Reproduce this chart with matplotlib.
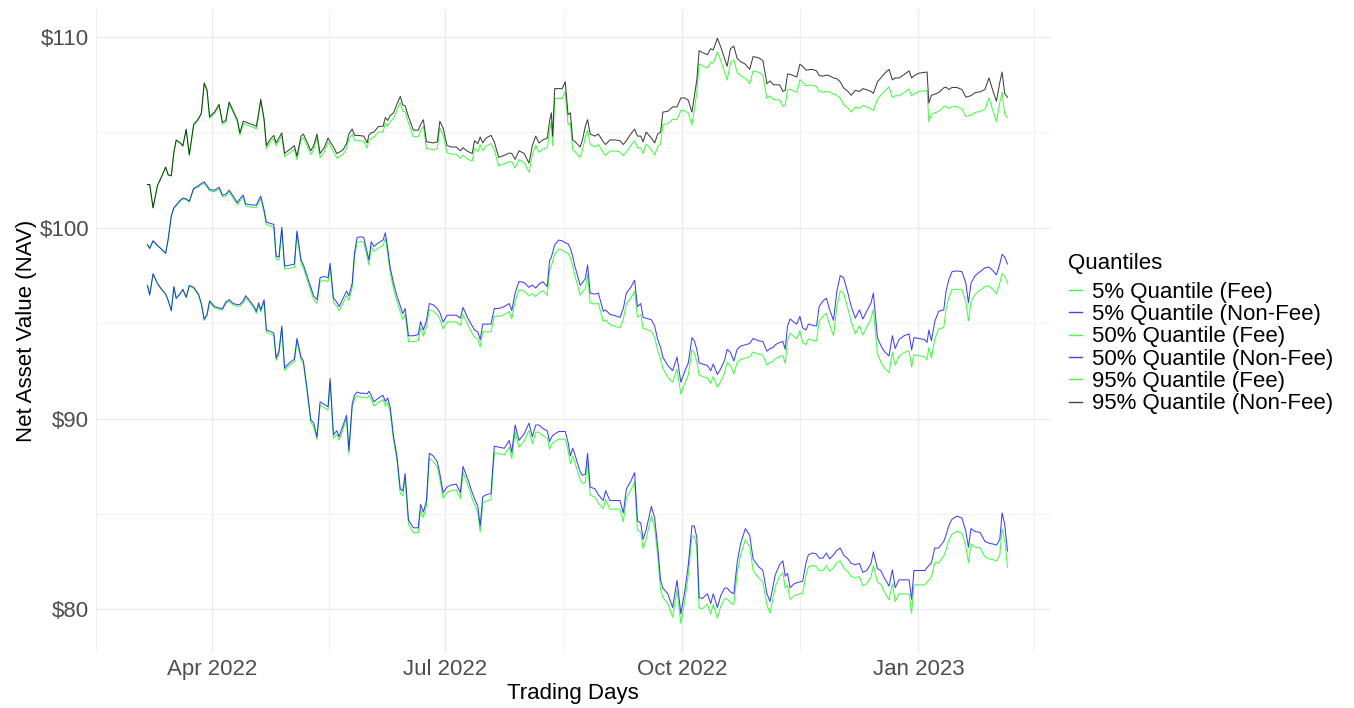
import matplotlib
matplotlib.use("Agg")
import matplotlib.pyplot as plt
import matplotlib.dates as mdates
import pandas as pd

plt.rcParams['font.family'] = ['Liberation Sans', 'DejaVu Sans']

# calendar days since the first trading day (2022-03-07)
start_date = "2022-03-07"
days = [
    0.0, 0.9, 2.2, 3.9, 5.5, 7.1, 8.1, 9.3, 10.3, 11.2,
    12.9, 13.8, 15.1, 16.3, 18.0, 19.9, 21.0, 22.1, 23.2, 24.2,
    26.1, 27.9, 29.2, 30.5, 31.8, 33.4, 35.0, 36.0, 37.3, 38.2,
    39.9, 41.5, 42.4, 43.3, 44.1, 45.4, 46.3, 47.6, 49.2, 50.1,
    51.2, 52.3, 53.4, 55.3, 57.2, 58.2, 59.8, 60.7, 62.1, 63.6,
    64.7, 66.0, 67.2, 68.8, 70.3, 71.1, 72.4, 73.7, 74.6, 76.2,
    77.5, 78.4, 79.7, 80.6, 81.6,
    82.9, 84.2, 85.5, 86.2, 87.1, 88.1, 90.0, 91.7, 92.6, 93.5,
    94.5, 95.8, 97.1, 98.4, 99.4, 100.3, 101.6, 103.5, 105.4, 106.3,
    107.4, 108.6, 109.7, 111.2, 112.8, 113.8, 115.1, 116.6, 118.3, 120.2,
    121.8, 122.8, 124.7, 126.4, 127.3, 128.6, 129.5, 130.5, 131.8, 133.7,
    135.0, 136.7, 138.9, 140.8, 141.8, 143.1, 144.6, 146.6, 148.5, 149.8,
    151.1, 152.4, 153.9, 155.6, 156.5, 157.2, 157.7, 158.5, 160.1, 161.4,
    162.6,
    163.7, 164.6, 165.5, 166.3, 167.2, 168.4, 169.3, 170.4, 171.3, 172.3,
    174.2, 175.5, 177.4, 178.3, 180.0, 181.9, 183.9, 185.2, 186.4, 188.1,
    189.6, 190.7, 192.0, 192.9, 194.1, 196.1, 197.4, 198.6, 199.7, 200.6,
    202.5, 204.4, 206.1, 207.6, 209.2, 210.5, 211.9, 212.8, 213.8, 214.7,
    216.0, 217.9, 219.2, 220.2, 221.8, 223.1, 224.6, 225.6, 226.9, 228.2,
    229.5, 230.8, 232.7, 234.4, 235.7, 237.8, 239.5, 241.1, 242.3, 243.6,
    244.3, 246.0, 247.3, 248.2, 249.1, 250.1, 251.6, 252.7, 253.9, 255.0,
    256.3, 257.2, 258.8, 260.4, 261.4, 262.9, 264.2, 265.5, 267.0, 268.3,
    269.6, 270.9, 272.6, 273.9, 275.5, 277.1, 278.4, 279.9, 281.6, 282.5,
    284.1, 285.4, 286.7, 288.6, 289.9, 291.0, 292.5, 294.4, 296.4, 297.4,
    298.3, 300.2, 302.5, 303.4, 304.1, 305.1, 306.4, 307.9, 309.9, 310.8,
    311.8, 313.1, 315.0, 317.0, 318.5, 319.5, 320.5, 322.1, 324.0, 325.9,
    327.5, 329.1, 330.4, 331.7, 332.6, 333.6, 334.7,
]

q05_fee = [
    96.98, 96.48, 97.58, 97.08, 96.77, 96.52, 96.17, 95.64, 96.89, 96.28,
    96.55, 96.75, 96.33, 96.94, 96.83, 96.47, 95.98, 95.15, 95.40, 96.11,
    95.80, 95.73, 95.69, 96.03, 96.15, 95.95, 95.88, 95.90, 96.08, 96.34,
    96.07, 95.77, 95.51, 95.96, 95.59, 96.12, 94.52, 94.46, 94.36, 93.05,
    93.40, 94.72, 92.52, 92.78, 92.98, 94.05, 93.07, 92.87, 91.43, 89.77,
    89.60, 88.88, 90.71, 90.57, 90.44, 91.92, 88.97, 89.18, 88.86, 89.47,
    89.98, 88.14, 90.58, 91.03, 91.19,
    91.12, 91.12, 91.08, 91.21, 91.00, 90.66, 90.85, 90.99, 90.65, 90.85,
    90.34, 88.81, 87.80, 86.06, 85.96, 86.87, 84.43, 84.01, 84.01, 85.22,
    84.82, 85.43, 87.91, 87.76, 87.45, 86.84, 85.82, 86.12, 86.22, 86.26,
    85.81, 87.18, 86.51, 85.79, 85.48, 85.07, 84.05, 85.57, 85.67, 85.74,
    88.21, 88.16, 88.09, 88.50, 87.89, 89.30, 88.49, 88.82, 89.39, 88.68,
    89.28, 89.28, 89.10, 88.97, 88.40, 88.61, 88.72, 88.79, 88.92, 88.92,
    88.91,
    88.34, 87.63, 88.03, 87.72, 87.31, 86.80, 86.60, 86.65, 87.75, 85.98,
    85.87, 85.56, 85.26, 85.76, 85.25, 85.25, 85.24, 84.59, 85.84, 86.24,
    86.69, 84.16, 84.04, 83.18, 83.68, 84.90, 84.29, 82.75, 81.02, 80.61,
    80.30, 79.58, 81.00, 79.24, 80.50, 81.81, 83.84, 83.84, 83.23, 80.07,
    80.03, 80.27, 79.75, 80.26, 79.54, 80.15, 80.55, 80.55, 80.34, 80.24,
    81.87, 82.84, 83.65, 83.28, 82.05, 81.65, 81.43, 80.21, 79.79, 80.71,
    81.18, 81.72, 81.92, 81.11, 81.26, 80.50, 80.70, 80.76, 80.80, 80.83,
    81.80, 82.21, 82.30, 82.24, 82.03, 82.02, 82.29, 81.98, 82.18, 82.42,
    82.54, 82.17, 81.96, 81.72, 81.65, 81.71, 81.23, 81.33, 81.70, 82.30,
    81.42, 81.32, 80.94, 80.49, 81.35, 80.40, 80.81, 80.80, 80.80, 79.78,
    81.28, 81.28, 81.27, 81.43, 81.52, 81.68, 82.44, 82.44, 82.79, 83.12,
    83.59, 83.94, 84.09, 83.99, 83.27, 82.45, 83.43, 83.26, 83.22, 82.75,
    82.64, 82.60, 82.53, 82.83, 84.22, 83.65, 82.21,
]

q05_nonfee = [
    96.98, 96.48, 97.59, 97.09, 96.78, 96.54, 96.19, 95.66, 96.92, 96.31,
    96.58, 96.78, 96.37, 96.98, 96.88, 96.52, 96.03, 95.21, 95.46, 96.17,
    95.87, 95.80, 95.76, 96.11, 96.23, 96.03, 95.97, 95.99, 96.17, 96.44,
    96.17, 95.87, 95.62, 96.07, 95.70, 96.23, 94.64, 94.58, 94.48, 93.18,
    93.53, 94.85, 92.65, 92.92, 93.12, 94.20, 93.22, 93.02, 91.59, 89.93,
    89.76, 89.05, 90.88, 90.74, 90.62, 92.10, 89.15, 89.36, 89.05, 89.66,
    90.17, 88.34, 90.78, 91.23, 91.39,
    91.33, 91.33, 91.29, 91.43, 91.22, 90.88, 91.08, 91.22, 90.88, 91.08,
    90.58, 89.05, 88.04, 86.31, 86.21, 87.12, 84.68, 84.27, 84.27, 85.49,
    85.09, 85.70, 88.18, 88.04, 87.73, 87.12, 86.11, 86.41, 86.52, 86.56,
    86.11, 87.49, 86.82, 86.11, 85.80, 85.39, 84.37, 85.90, 86.00, 86.07,
    88.55, 88.50, 88.44, 88.85, 88.24, 89.66, 88.85, 89.19, 89.76, 89.05,
    89.66, 89.66, 89.48, 89.36, 88.79, 89.00, 89.11, 89.19, 89.32, 89.32,
    89.32,
    88.75, 88.04, 88.44, 88.14, 87.73, 87.22, 87.02, 87.08, 88.18, 86.41,
    86.31, 86.00, 85.70, 86.21, 85.70, 85.70, 85.70, 85.05, 86.31, 86.71,
    87.16, 84.64, 84.52, 83.66, 84.17, 85.39, 84.78, 83.25, 81.52, 81.11,
    80.81, 80.09, 81.52, 79.76, 81.02, 82.34, 84.37, 84.37, 83.76, 80.61,
    80.57, 80.81, 80.30, 80.81, 80.09, 80.71, 81.11, 81.11, 80.91, 80.81,
    82.44, 83.42, 84.23, 83.87, 82.64, 82.24, 82.03, 80.81, 80.40, 81.32,
    81.79, 82.34, 82.54, 81.73, 81.88, 81.13, 81.33, 81.39, 81.43, 81.47,
    82.44, 82.85, 82.95, 82.89, 82.68, 82.68, 82.95, 82.64, 82.85, 83.09,
    83.21, 82.85, 82.64, 82.40, 82.34, 82.40, 81.93, 82.03, 82.40, 83.01,
    82.13, 82.03, 81.66, 81.21, 82.07, 81.13, 81.54, 81.54, 81.54, 80.52,
    82.03, 82.03, 82.03, 82.19, 82.28, 82.44, 83.21, 83.21, 83.56, 83.90,
    84.37, 84.72, 84.88, 84.78, 84.07, 83.25, 84.23, 84.07, 84.03, 83.56,
    83.46, 83.42, 83.36, 83.66, 85.05, 84.48, 83.05,
]

q50_fee = [
    99.12, 98.92, 99.31, 99.07, 98.86, 98.65, 99.40, 100.61, 101.02, 101.16,
    101.42, 101.52, 101.47, 101.35, 102.02, 102.15, 102.27, 102.34, 102.14, 101.94,
    101.89, 102.05, 101.63, 101.67, 101.87, 101.56, 101.21, 101.41, 101.61, 101.14,
    101.09, 101.07, 101.06, 101.33, 101.53, 100.81, 100.16, 100.10, 100.03, 98.36,
    98.32, 99.88, 97.84, 97.87, 97.93, 99.67, 98.13, 97.88, 97.30, 96.69,
    96.24, 96.03, 97.19, 97.24, 97.18, 97.93, 96.09, 95.89, 95.65, 96.08,
    96.45, 96.19, 96.85, 98.47, 99.25,
    99.28, 99.24, 98.45, 98.05, 99.02, 98.76, 98.95, 99.08, 99.46, 98.64,
    97.62, 96.80, 96.14, 95.61, 95.20, 95.47, 94.04, 94.03, 94.08, 94.77,
    94.32, 94.82, 95.70, 95.64, 95.43, 95.22, 94.70, 95.07, 95.07, 95.06,
    94.89, 95.46, 94.89, 94.47, 94.26, 94.15, 93.75, 94.56, 94.55, 94.55,
    95.36, 95.36, 95.45, 95.61, 95.23, 96.15, 96.76, 96.69, 96.43, 96.55,
    96.39, 96.59, 96.71, 96.45, 97.80, 98.00, 98.24, 98.64, 98.88, 98.84,
    98.73,
    98.67, 98.43, 98.01, 97.50, 97.09, 96.47, 96.62, 96.82, 97.55, 96.06,
    96.00, 96.05, 95.09, 95.17, 94.92, 94.85, 94.75, 95.21, 96.02, 96.32,
    96.68, 95.30, 95.45, 94.72, 94.68, 94.59, 94.26, 93.54, 93.13, 92.62,
    92.17, 91.90, 92.60, 91.28, 91.88, 92.29, 93.60, 93.44, 92.99, 92.28,
    92.21, 92.13, 91.85, 92.20, 91.64, 91.94, 92.39, 92.95, 92.79, 92.34,
    92.94, 93.10, 93.17, 93.23, 93.49, 93.37, 93.32, 92.81, 92.94, 93.00,
    93.14, 93.25, 93.30, 92.89, 94.10, 94.47, 94.30, 94.19, 94.60, 93.98,
    93.87, 94.18, 94.11, 94.07, 95.09, 95.38, 95.52, 94.90, 94.35, 95.88,
    96.68, 96.58, 95.76, 95.05, 94.43, 94.87, 94.38, 94.78, 95.23, 95.73,
    93.39, 92.97, 92.67, 92.41, 93.47, 92.80, 93.26, 93.46, 93.55, 92.70,
    93.35, 93.30, 93.23, 93.08, 93.73, 93.16, 94.17, 94.70, 94.77, 95.75,
    96.31, 96.76, 96.79, 96.75, 96.13, 95.11, 96.13, 96.52, 96.73, 96.92,
    96.96, 96.75, 96.54, 97.10, 97.61, 97.47, 97.10,
]

q50_nonfee = [
    99.12, 98.92, 99.32, 99.08, 98.88, 98.67, 99.42, 100.64, 101.05, 101.19,
    101.46, 101.56, 101.52, 101.40, 102.07, 102.21, 102.33, 102.41, 102.21, 102.01,
    101.97, 102.13, 101.72, 101.76, 101.97, 101.66, 101.32, 101.52, 101.72, 101.25,
    101.21, 101.19, 101.19, 101.46, 101.66, 100.95, 100.30, 100.24, 100.18, 98.51,
    98.47, 100.04, 98.00, 98.04, 98.10, 99.84, 98.31, 98.06, 97.49, 96.88,
    96.43, 96.23, 97.39, 97.45, 97.39, 98.14, 96.31, 96.11, 95.87, 96.31,
    96.68, 96.43, 97.09, 98.71, 99.49,
    99.53, 99.49, 98.71, 98.31, 99.28, 99.02, 99.22, 99.36, 99.74, 98.92,
    97.90, 97.09, 96.43, 95.91, 95.50, 95.77, 94.34, 94.34, 94.40, 95.09,
    94.64, 95.15, 96.03, 95.97, 95.77, 95.56, 95.05, 95.42, 95.42, 95.42,
    95.26, 95.83, 95.26, 94.85, 94.64, 94.54, 94.14, 94.95, 94.95, 94.95,
    95.77, 95.77, 95.87, 96.03, 95.66, 96.58, 97.19, 97.13, 96.88, 97.00,
    96.84, 97.05, 97.17, 96.92, 98.27, 98.47, 98.71, 99.12, 99.36, 99.32,
    99.22,
    99.16, 98.92, 98.51, 98.00, 97.59, 96.98, 97.13, 97.33, 98.06, 96.58,
    96.52, 96.58, 95.62, 95.70, 95.46, 95.40, 95.30, 95.77, 96.58, 96.88,
    97.25, 95.87, 96.03, 95.30, 95.26, 95.18, 94.85, 94.14, 93.73, 93.22,
    92.78, 92.51, 93.22, 91.90, 92.51, 92.92, 94.24, 94.08, 93.63, 92.92,
    92.86, 92.78, 92.51, 92.86, 92.31, 92.61, 93.06, 93.63, 93.47, 93.02,
    93.63, 93.79, 93.87, 93.93, 94.20, 94.08, 94.04, 93.53, 93.67, 93.73,
    93.87, 93.99, 94.04, 93.63, 94.85, 95.22, 95.05, 94.95, 95.36, 94.75,
    94.64, 94.95, 94.89, 94.85, 95.87, 96.17, 96.31, 95.70, 95.15, 96.68,
    97.49, 97.39, 96.58, 95.87, 95.26, 95.70, 95.22, 95.62, 96.07, 96.58,
    94.24, 93.83, 93.53, 93.28, 94.34, 93.67, 94.14, 94.34, 94.44, 93.59,
    94.24, 94.20, 94.14, 93.99, 94.64, 94.08, 95.09, 95.62, 95.70, 96.68,
    97.25, 97.70, 97.74, 97.70, 97.09, 96.07, 97.09, 97.49, 97.70, 97.90,
    97.94, 97.74, 97.53, 98.10, 98.61, 98.47, 98.10,
]

q95_fee = [
    102.27, 102.27, 101.04, 102.20, 102.66, 103.17, 102.75, 102.71, 103.93, 104.57,
    104.41, 104.27, 105.13, 103.79, 105.36, 105.67, 105.96, 107.53, 107.18, 105.75,
    105.99, 106.39, 105.44, 105.53, 106.50, 106.03, 105.56, 104.86, 105.47, 105.43,
    105.33, 105.25, 105.18, 105.89, 106.61, 105.58, 104.16, 104.46, 104.69, 104.29,
    104.55, 104.81, 103.73, 103.92, 104.13, 103.57, 104.62, 104.73, 104.31, 103.84,
    104.10, 104.71, 103.68, 103.98, 104.49, 104.28, 104.01, 103.66, 103.72, 103.86,
    104.16, 104.67, 104.92, 104.59, 104.59,
    104.56, 104.54, 104.18, 104.59, 104.70, 104.74, 105.03, 105.03, 105.49, 105.33,
    105.59, 105.72, 106.17, 106.58, 106.12, 106.08, 105.50, 104.79, 104.78, 105.08,
    105.33, 104.16, 104.14, 104.09, 104.15, 105.23, 104.85, 103.94, 103.86, 103.86,
    103.65, 103.81, 103.60, 103.50, 104.16, 104.00, 104.36, 104.03, 104.29, 104.42,
    104.08, 103.26, 103.36, 103.47, 103.45, 103.13, 103.58, 103.43, 102.91, 103.83,
    104.33, 103.96, 104.12, 104.21, 105.09, 105.53, 104.31, 106.79, 106.79, 106.78,
    107.14,
    105.41, 105.50, 104.08, 104.00, 103.87, 103.70, 104.07, 104.77, 105.12, 104.37,
    104.25, 104.36, 103.94, 103.80, 104.03, 104.03, 103.98, 103.78, 103.97, 104.32,
    104.57, 104.20, 104.20, 103.89, 104.40, 104.08, 103.82, 104.28, 104.38, 105.43,
    105.46, 105.69, 105.68, 106.15, 106.14, 106.01, 105.39, 106.17, 107.08, 108.60,
    108.50, 108.38, 108.69, 108.63, 109.23, 108.78, 108.16, 107.75, 108.66, 108.80,
    108.15, 107.98, 107.84, 107.56, 108.23, 108.16, 108.01, 106.79, 106.92, 106.72,
    106.72, 106.71, 106.36, 106.42, 107.27, 107.25, 107.16, 107.10, 107.77, 107.65,
    107.45, 107.47, 107.48, 107.40, 107.15, 107.11, 107.16, 107.12, 107.01, 106.96,
    106.80, 106.47, 106.28, 106.07, 106.33, 106.26, 106.41, 106.34, 106.25, 106.15,
    106.75, 106.95, 107.15, 107.39, 106.83, 106.93, 106.92, 107.09, 107.28, 106.91,
    107.02, 107.15, 107.18, 107.20, 105.57, 105.97, 106.03, 106.10, 106.35, 106.39,
    106.25, 106.36, 106.35, 106.24, 105.83, 105.87, 105.90, 106.06, 106.09, 106.21,
    106.81, 106.10, 105.58, 106.56, 107.11, 105.98, 105.78,
]

q95_nonfee = [
    102.27, 102.27, 101.05, 102.21, 102.68, 103.19, 102.78, 102.74, 103.96, 104.61,
    104.45, 104.31, 105.18, 103.84, 105.42, 105.73, 106.03, 107.60, 107.25, 105.83,
    106.07, 106.48, 105.53, 105.63, 106.60, 106.14, 105.67, 104.98, 105.59, 105.55,
    105.46, 105.38, 105.32, 106.03, 106.75, 105.73, 104.31, 104.61, 104.85, 104.45,
    104.71, 104.98, 103.90, 104.10, 104.31, 103.76, 104.81, 104.92, 104.51, 104.04,
    104.31, 104.92, 103.90, 104.20, 104.71, 104.51, 104.24, 103.90, 103.96, 104.10,
    104.41, 104.92, 105.18, 104.85, 104.85,
    104.83, 104.81, 104.45, 104.87, 104.98, 105.02, 105.32, 105.32, 105.79, 105.63,
    105.89, 106.03, 106.48, 106.89, 106.44, 106.40, 105.83, 105.12, 105.12, 105.42,
    105.67, 104.51, 104.49, 104.45, 104.51, 105.59, 105.22, 104.31, 104.24, 104.24,
    104.04, 104.20, 104.00, 103.90, 104.57, 104.41, 104.77, 104.45, 104.71, 104.85,
    104.51, 103.70, 103.80, 103.92, 103.90, 103.59, 104.04, 103.90, 103.39, 104.31,
    104.81, 104.45, 104.61, 104.71, 105.59, 106.03, 104.81, 107.30, 107.30, 107.30,
    107.66,
    105.93, 106.03, 104.61, 104.53, 104.41, 104.24, 104.61, 105.32, 105.67, 104.92,
    104.81, 104.92, 104.51, 104.37, 104.61, 104.61, 104.57, 104.37, 104.57, 104.92,
    105.18, 104.81, 104.81, 104.51, 105.02, 104.71, 104.45, 104.92, 105.02, 106.07,
    106.11, 106.34, 106.34, 106.81, 106.81, 106.68, 106.07, 106.85, 107.76, 109.29,
    109.19, 109.08, 109.39, 109.33, 109.94, 109.49, 108.88, 108.47, 109.39, 109.53,
    108.88, 108.72, 108.58, 108.31, 108.98, 108.92, 108.78, 107.56, 107.70, 107.50,
    107.50, 107.50, 107.15, 107.21, 108.07, 108.05, 107.97, 107.91, 108.58, 108.47,
    108.27, 108.29, 108.31, 108.23, 107.99, 107.95, 108.01, 107.97, 107.86, 107.82,
    107.66, 107.34, 107.15, 106.95, 107.21, 107.15, 107.30, 107.24, 107.15, 107.05,
    107.66, 107.86, 108.07, 108.31, 107.76, 107.86, 107.86, 108.03, 108.23, 107.86,
    107.97, 108.11, 108.15, 108.17, 106.54, 106.95, 107.01, 107.09, 107.34, 107.38,
    107.25, 107.36, 107.36, 107.25, 106.85, 106.89, 106.93, 107.09, 107.13, 107.25,
    107.86, 107.15, 106.64, 107.62, 108.17, 107.05, 106.85,
]

labels = [
    "5% Quantile (Fee)", "5% Quantile (Non-Fee)",
    "50% Quantile (Fee)", "50% Quantile (Non-Fee)",
    "95% Quantile (Fee)", "95% Quantile (Non-Fee)",
]
series = [q05_fee, q05_nonfee, q50_fee, q50_nonfee, q95_fee, q95_nonfee]
colors = ["#00FF00", "#0000FF", "#00FF00", "#0000FF", "#00FF00", "#000000"]

dates = pd.Timestamp(start_date) + pd.to_timedelta(days, unit="D")

fig = plt.figure(figsize=(13.54, 7.08), dpi=100)
ax = fig.add_axes([96 / 1354, 1 - 653 / 708, 954.5 / 1354, 644 / 708])

handles = []
for vals, col, lab in zip(series, colors, labels):
    h, = ax.plot(dates, vals, color=col, lw=0.75, alpha=0.75, label=lab)
    handles.append(h)

# ggplot-like 5% expansion on both axes
x0, x1 = mdates.date2num(dates[0]), mdates.date2num(dates[-1])
xpad = (x1 - x0) * 0.05
ax.set_xlim(x0 - xpad, x1 + xpad)
ymin = min(min(s) for s in series)
ymax = max(max(s) for s in series)
ypad = (ymax - ymin) * 0.05
ax.set_ylim(ymin - ypad, ymax + ypad)

# breaks
major_dates = pd.to_datetime(["2022-04-01", "2022-07-01", "2022-10-01", "2023-01-01"])
major_num = mdates.date2num(major_dates)
ext = mdates.date2num(pd.to_datetime(["2022-01-01", "2022-04-01", "2022-07-01",
                                      "2022-10-01", "2023-01-01", "2023-04-01"]))
minor_num = [(a + b) / 2 for a, b in zip(ext[:-1], ext[1:])]
ax.set_xticks(major_num)
ax.set_xticklabels([d.strftime("%b %Y") for d in major_dates])
ax.set_xticks(minor_num, minor=True)
ax.set_yticks([80, 90, 100, 110])
ax.set_yticklabels(["$80", "$90", "$100", "$110"])
ax.set_yticks([85, 95, 105], minor=True)

ax.grid(which="major", color="#EBEBEB", lw=1.0)
ax.grid(which="minor", color="#F2F2F2", lw=0.8)
ax.set_axisbelow(True)
for sp in ax.spines.values():
    sp.set_visible(False)
ax.tick_params(which="both", length=0)
ax.tick_params(axis="x", labelsize=16, labelcolor="#4D4D4D", pad=4)
ax.tick_params(axis="y", labelsize=16, labelcolor="#4D4D4D", pad=5)

fig.text(573 / 1354, 1 - 693 / 708, "Trading Days", fontsize=16,
         ha="center", va="center")
fig.text(27 / 1354, 1 - 331 / 708, "Net Asset Value (NAV)", fontsize=16,
         rotation=90, ha="center", va="center")

# legend: title drawn separately so its gap to the keys can match
fig.text(1068 / 1354, 1 - 264 / 708, "Quantiles", fontsize=16,
         ha="left", va="center")
leg = fig.legend(handles=handles, labels=labels,
                 loc="center left", bbox_to_anchor=(1069 / 1354, 1 - 348 / 708),
                 frameon=False, fontsize=16, borderaxespad=0,
                 handlelength=0.6, handletextpad=0.45, labelspacing=0.06,
                 borderpad=0)
for lh in leg.get_lines():
    lh.set_linewidth(1.0)

fig.savefig("out.png", dpi=100)
